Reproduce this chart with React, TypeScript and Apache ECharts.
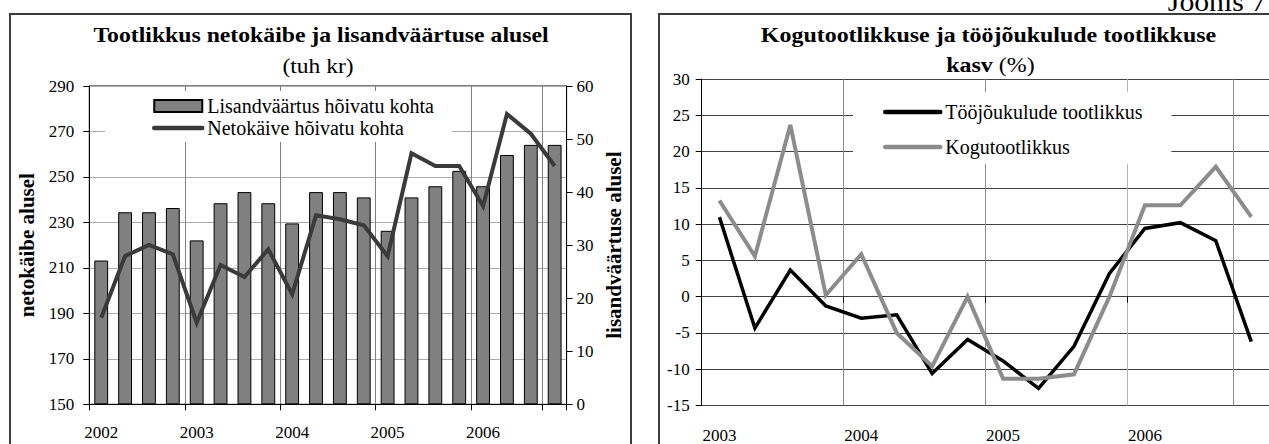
import React, { useEffect, useRef } from 'react';
import * as echarts from 'echarts';

// ---------- data ----------
const leftQuarters = [
  '2002 Q1', '2002 Q2', '2002 Q3', '2002 Q4',
  '2003 Q1', '2003 Q2', '2003 Q3', '2003 Q4',
  '2004 Q1', '2004 Q2', '2004 Q3', '2004 Q4',
  '2005 Q1', '2005 Q2', '2005 Q3', '2005 Q4',
  '2006 Q1', '2006 Q2', '2006 Q3', '2006 Q4',
];
// Lisandväärtus hõivatu kohta (right axis, tuh kr)
const valueAddedPerEmployee = [
  27.1, 36.2, 36.2, 37.0, 30.9, 37.9, 40.0, 37.9, 34.1, 40.0,
  40.0, 39.0, 32.7, 39.0, 41.1, 44.0, 41.1, 47.0, 48.9, 48.9,
];
// Netokäive hõivatu kohta (left axis, tuh kr)
const turnoverPerEmployee = [
  188.1, 215.2, 220.1, 216.0, 185.9, 211.3, 206.0, 218.2, 198.4, 233.1,
  231.4, 228.7, 215.1, 260.4, 254.8, 254.8, 237.2, 277.7, 269.0, 254.8,
];

const rightQuarters = [
  '2003 Q1', '2003 Q2', '2003 Q3', '2003 Q4',
  '2004 Q1', '2004 Q2', '2004 Q3', '2004 Q4',
  '2005 Q1', '2005 Q2', '2005 Q3', '2005 Q4',
  '2006 Q1', '2006 Q2', '2006 Q3', '2006 Q4',
];
// Tööjõukulude tootlikkus (%)
const labourCostProductivity = [
  10.96, -4.33, 3.66, -1.27, -2.97, -2.5, -10.6, -5.9,
  -8.85, -12.65, -6.85, 3.2, 9.4, 10.2, 7.7, -6.2,
];
// Kogutootlikkus (%)
const totalProductivity = [
  13.25, 5.57, 23.66, 0.2, 5.84, -5.0, -9.6, 0.0,
  -11.3, -11.3, -10.7, 0.0, 12.6, 12.6, 17.9, 11.0,
];

const leftTitle = 'Tootlikkus netokäibe ja lisandväärtuse alusel';
const leftSubtitle = '(tuh kr)';
const rightTitle = 'Kogutootlikkuse ja tööjõukulude tootlikkuse';
const figureLabel = 'Joonis 7';
const leftAxisName = 'netokäibe alusel';
const rightAxisName = 'lisandväärtuse alusel';
const barName = 'Lisandväärtus hõivatu kohta';
const turnoverName = 'Netokäive hõivatu kohta';
const labourName = 'Tööjõukulude tootlikkus';
const totalName = 'Kogutootlikkus';

const leftMin = 150, leftMax = 290, leftStep = 20;
const rightMin = 0, rightMax = 60, rightStep = 10;
const pctMin = -15, pctMax = 30, pctStep = 5;

const FONT = "'Liberation Serif', 'Times New Roman', serif";
const yearOnly = (v: string) => (v.endsWith('Q1') ? v.slice(0, 4) : '');

export default function App() {
  const ref = useRef<HTMLDivElement>(null);
  useEffect(() => {
    const chart = echarts.init(ref.current!, null, { renderer: 'svg' });
    const labelStyle = { fontFamily: FONT, fontSize: 17, color: '#000' };
    const nameStyle = { fontFamily: FONT, fontWeight: 'bold', fontSize: 21, color: '#000' };
    const lineLegendItem = (name: string, color: string, width: number) => ({
      name,
      itemStyle: { opacity: 0 },
      lineStyle: { color, width, cap: 'round', opacity: 1 },
    });
    const option: any = {
      animation: false,
      backgroundColor: '#fff',
      textStyle: { fontFamily: FONT },
      graphic: [
        { type: 'rect', z: -10, shape: { x: 10, y: 14, width: 621, height: 460 }, style: { fill: 'none', stroke: '#3c3c3c', lineWidth: 2 } },
        { type: 'rect', z: -10, shape: { x: 659, y: 14, width: 640, height: 460 }, style: { fill: 'none', stroke: '#3c3c3c', lineWidth: 2 } },
        { type: 'text', x: 1266, y: 1.8, scaleX: 1.1, style: { text: figureLabel, font: `27px ${FONT}`, fill: '#000', align: 'right', verticalAlign: 'middle' } },
        { type: 'text', x: 321, y: 34.6, scaleX: 1.13, style: { text: leftTitle, font: `bold 21px ${FONT}`, fill: '#000', align: 'center', verticalAlign: 'middle' } },
        { type: 'text', x: 318, y: 65.5, scaleX: 1.12, style: { text: leftSubtitle, font: `21px ${FONT}`, fill: '#000', align: 'center', verticalAlign: 'middle' } },
        { type: 'text', x: 988.5, y: 34.6, scaleX: 1.14, style: { text: rightTitle, font: `bold 21px ${FONT}`, fill: '#000', align: 'center', verticalAlign: 'middle' } },
        {
          type: 'text', x: 990.5, y: 65, scaleX: 1.14,
          style: {
            text: '{b|kasv} {n|(%)}', align: 'center', verticalAlign: 'middle', fill: '#000',
            font: `21px ${FONT}`,
            rich: {
              b: { fontFamily: FONT, fontWeight: 'bold', fontSize: 21, fill: '#000' },
              n: { fontFamily: FONT, fontSize: 21, fill: '#000' },
            },
          },
        },
      ],
      grid: [
        { left: 89.3, top: 86, width: 477.3, height: 318.3, show: true, borderColor: '#000', borderWidth: 1, backgroundColor: 'transparent' },
        { left: 701.7, top: 79, width: 568, height: 327 },
      ],
      legend: [
        {
          orient: 'vertical', left: 105, top: 91,
          backgroundColor: '#fff', padding: [5, 18, 4, 47],
          itemWidth: 48, itemHeight: 12, itemGap: 2,
          textStyle: { fontFamily: FONT, fontSize: 20, color: '#000' },
          data: [{ name: barName, icon: 'rect' }, lineLegendItem(turnoverName, '#3a3a3a', 4.5)],
        },
        {
          orient: 'vertical', left: 853, top: 92,
          backgroundColor: '#fff', padding: [10, 29, 7, 30],
          itemWidth: 55, itemHeight: 12, itemGap: 15,
          textStyle: { fontFamily: FONT, fontSize: 20, color: '#000' },
          data: [lineLegendItem(labourName, '#000', 4.5), lineLegendItem(totalName, '#8c8c8c', 4.5)],
        },
      ],
      xAxis: [
        {
          type: 'category', gridIndex: 0, data: leftQuarters, boundaryGap: true,
          axisLine: { show: true, onZero: false, lineStyle: { color: '#000', width: 1 } },
          axisTick: { show: true, interval: 3, length: 6, lineStyle: { color: '#000' } },
          axisLabel: { ...labelStyle, interval: 0, formatter: yearOnly, margin: 20 },
          splitLine: { show: true, interval: 3, lineStyle: { color: '#808080', width: 1 } },
        },
        {
          type: 'category', gridIndex: 1, data: rightQuarters, boundaryGap: true, position: 'bottom',
          axisLine: { show: false, onZero: false },
          axisTick: { show: false },
          axisLabel: { ...labelStyle, interval: 0, formatter: yearOnly, margin: 21.5 },
          splitLine: { show: true, interval: 3, lineStyle: { color: ['#000', '#8a8a8a', '#8a8a8a', '#b4b4b4', '#8a8a8a'], width: 1 } },
        },
        {
          type: 'category', gridIndex: 1, data: rightQuarters, boundaryGap: true, position: 'bottom',
          axisLine: { show: true, onZero: true, lineStyle: { color: '#404040', width: 1 } },
          axisTick: { show: true, interval: 3, length: 6, lineStyle: { color: '#000' } },
          axisLabel: { show: false },
          splitLine: { show: false },
        },
      ],
      yAxis: [
        {
          type: 'value', gridIndex: 0, position: 'left', min: leftMin, max: leftMax, interval: leftStep,
          axisLine: { show: true, lineStyle: { color: '#000' } },
          axisTick: { show: true, length: 6, lineStyle: { color: '#000' } },
          axisLabel: { ...labelStyle, margin: 15 },
          splitLine: { show: true, lineStyle: { color: '#ababab', width: 1 } },
          name: leftAxisName, nameLocation: 'middle', nameRotate: 90, nameGap: 52,
          nameTextStyle: nameStyle,
        },
        {
          type: 'value', gridIndex: 0, position: 'right', min: rightMin, max: rightMax, interval: rightStep,
          axisLine: { show: true, lineStyle: { color: '#000' } },
          axisTick: { show: true, length: 6, lineStyle: { color: '#000' } },
          axisLabel: { ...labelStyle, margin: 10 },
          splitLine: { show: false },
          name: rightAxisName, nameLocation: 'middle', nameRotate: 90, nameGap: 36.6,
          nameTextStyle: nameStyle,
        },
        {
          type: 'value', gridIndex: 1, position: 'left', min: pctMin, max: pctMax, interval: pctStep,
          axisLine: { show: true, onZero: false, lineStyle: { color: '#000' } },
          axisTick: { show: true, length: 6, lineStyle: { color: '#000' } },
          axisLabel: { ...labelStyle, margin: 12 },
          splitLine: { show: true, lineStyle: { color: '#404040', width: 1 } },
        },
      ],
      series: [
        {
          name: barName, type: 'bar', xAxisIndex: 0, yAxisIndex: 1, data: valueAddedPerEmployee,
          barWidth: '58%',
          itemStyle: { color: '#808080', borderColor: '#000', borderWidth: 1 },
        },
        {
          name: turnoverName, type: 'line', xAxisIndex: 0, yAxisIndex: 0, data: turnoverPerEmployee,
          symbol: 'none', color: '#3a3a3a',
          lineStyle: { color: '#3a3a3a', width: 4, join: 'miter' },
        },
        {
          name: labourName, type: 'line', xAxisIndex: 1, yAxisIndex: 2, data: labourCostProductivity,
          symbol: 'none', color: '#000',
          lineStyle: { color: '#000', width: 3.5, join: 'miter' },
        },
        {
          name: totalName, type: 'line', xAxisIndex: 1, yAxisIndex: 2, data: totalProductivity,
          symbol: 'none', color: '#8c8c8c',
          lineStyle: { color: '#8c8c8c', width: 4, join: 'miter' },
        },
      ],
    };
    chart.setOption(option);
    return () => chart.dispose();
  }, []);
  return (
    <div
      ref={ref}
      style={{ position: 'fixed', left: 0, top: 0, width: 1269, height: 444, background: '#fff' }}
    />
  );
}
